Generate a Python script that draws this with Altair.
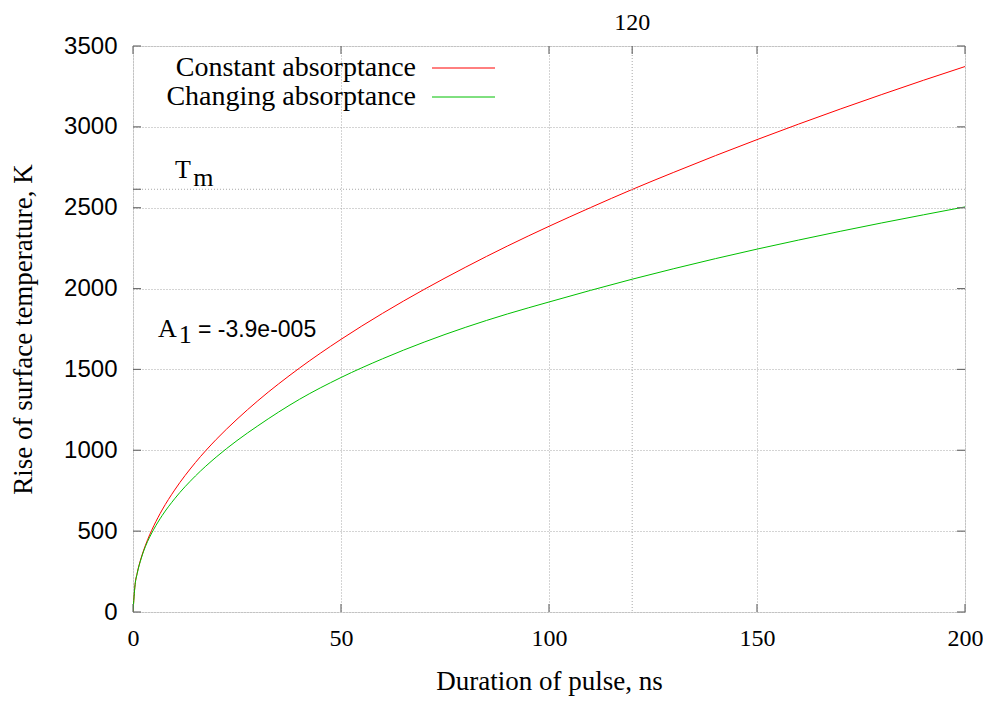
import altair as alt
import pandas as pd

# ---- data ----
t_ns = [0, 0.5, 1, 2, 3, 4, 5, 7, 10, 15, 20, 25, 30, 40, 50, 60, 70, 80, 90, 100,
        110, 120, 130, 140, 150, 160, 170, 180, 190, 200]
constant_abs = [0, 170, 240, 338, 413, 477, 533, 631, 754, 924, 1067, 1192, 1306, 1508, 1686,
                1847, 1995, 2133, 2263, 2385, 2501, 2613, 2719, 2822, 2921, 3017, 3110, 3200,
                3288, 3373]
changing_abs = [0, 168, 237, 333, 406, 463, 512, 596, 700, 841, 958, 1060, 1151, 1315, 1450,
                1566, 1669, 1761, 1843, 1917, 1989, 2058, 2123, 2185, 2244, 2300, 2354, 2406,
                2456, 2505]
series_names = ["Constant absorptance", "Changing absorptance"]
series_colors = ["#ff0000", "#00c000"]

x_ticks = [0, 50, 100, 150, 200]
y_ticks = [0, 500, 1000, 1500, 2000, 2500, 3000, 3500]
x_marker = 120          # top x2 tic
tm_value = 2614         # T_m level
a1_text = "= -3.9e-005"

SERIF = "Liberation Serif"
SANS = "Liberation Sans"
W, H = 832, 566
FRAME = "#6e6e6e"
GRID = "#a8a8a8"
WORD = 27   # serif word font size

rows = []
for name, vals in zip(series_names, [constant_abs, changing_abs]):
    for t, v in zip(t_ns, vals):
        rows.append({"t": t, "T": v, "series": name})
df = pd.DataFrame(rows)

xs = alt.Scale(domain=[0, 200], nice=False, zero=False)
ys = alt.Scale(domain=[0, 3500], nice=False, zero=False)

xaxis = alt.Axis(title="Duration of pulse, ns", values=x_ticks, ticks=False,
                 domain=False, grid=True, gridColor=GRID, gridDash=[1, 2],
                 labelFont=SERIF, labelFontSize=24, labelColor="#000",
                 labelPadding=14, labelFlush=False, format="d",
                 titleFont=SERIF, titleFontSize=WORD, titleFontWeight="normal",
                 titleColor="#000", titlePadding=18)
yaxis = alt.Axis(title="Rise of surface temperature, K", values=y_ticks, ticks=False,
                 domain=False, grid=True, gridColor=GRID, gridDash=[1, 2],
                 labelFont=SANS, labelFontSize=24, labelColor="#000",
                 labelPadding=16, labelFlush=False, format="d",
                 titleFont=SERIF, titleFontSize=WORD, titleFontWeight="normal",
                 titleColor="#000", titlePadding=26)

lines = alt.Chart(df).mark_line(strokeWidth=1, clip=True, interpolate="monotone").encode(
    x=alt.X("t:Q", scale=xs, axis=xaxis),
    y=alt.Y("T:Q", scale=ys, axis=yaxis),
    color=alt.Color("series:N", scale=alt.Scale(domain=series_names, range=series_colors),
                    legend=None),
    detail="series:N",
)

# extra grid lines: x = 120 and T_m
vline = alt.Chart().mark_rule(color=GRID, strokeDash=[1, 2], strokeWidth=1).encode(
    x=alt.datum(x_marker, scale=xs, axis=xaxis), y=alt.value(0), y2=alt.value(H))
hline = alt.Chart().mark_rule(color=GRID, strokeDash=[1, 2], strokeWidth=1).encode(
    y=alt.datum(tm_value, scale=ys, axis=yaxis), x=alt.value(0), x2=alt.value(W))

top_label = alt.Chart().mark_text(font=SERIF, fontSize=24, color="#000",
                                  baseline="alphabetic", align="center").encode(
    x=alt.datum(x_marker, scale=xs, axis=xaxis), y=alt.value(-16),
    text=alt.value(str(x_marker)))

# inward tics on all sides
tick_style = dict(color=FRAME, strokeWidth=1.2)
xb = alt.Chart(pd.DataFrame({"t": x_ticks})).mark_rule(**tick_style).encode(
    x=alt.X("t:Q", scale=xs, axis=xaxis), y=alt.value(H), y2=alt.value(H - 8))
xtp = alt.Chart(pd.DataFrame({"t": x_ticks + [x_marker]})).mark_rule(**tick_style).encode(
    x=alt.X("t:Q", scale=xs, axis=xaxis), y=alt.value(0), y2=alt.value(8))
yl = alt.Chart(pd.DataFrame({"T": y_ticks + [tm_value]})).mark_rule(**tick_style).encode(
    y=alt.Y("T:Q", scale=ys, axis=yaxis), x=alt.value(0), x2=alt.value(8))
yr = alt.Chart(pd.DataFrame({"T": y_ticks})).mark_rule(**tick_style).encode(
    y=alt.Y("T:Q", scale=ys, axis=yaxis), x=alt.value(W), x2=alt.value(W - 8))

# annotations
def txt(s, x, y, font=SERIF, size=WORD - 1):
    return alt.Chart().mark_text(font=font, fontSize=size, color="#000", align="left",
                                 baseline="alphabetic").encode(
        x=alt.datum(x, scale=xs, axis=xaxis), y=alt.datum(y, scale=ys, axis=yaxis),
        text=alt.value(s))

ann = [
    txt("T", 10.1, 2684),
    txt("m", 14.5, 2634),
    txt("A", 6.0, 1700),
    txt("1", 11.0, 1663),
    txt(a1_text, 15.6, 1700, font=SANS, size=23),
]

# legend (gnuplot style, top-left inside)
leg = []
for i, (name, col) in enumerate(zip(series_names, series_colors)):
    yy = 22 + 29 * i
    leg.append(alt.Chart().mark_text(font=SERIF, fontSize=28, color="#000", align="right",
                                     baseline="middle").encode(
        x=alt.value(283), y=alt.value(yy), text=alt.value(name)))
    leg.append(alt.Chart().mark_rule(color=col, strokeWidth=1).encode(
        x=alt.value(299), x2=alt.value(362), y=alt.value(yy)))

chart = alt.layer(lines, vline, hline, xb, xtp, yl, yr, top_label, *ann, *leg).properties(
    width=W, height=H,
    autosize=alt.AutoSizeParams(type="none"),
    padding={"left": 125, "top": 38, "right": 18, "bottom": 84},
).configure_view(stroke=FRAME, strokeWidth=2).configure(background="white")

chart.save("out.html", embed_options={"renderer": "svg", "actions": False})
